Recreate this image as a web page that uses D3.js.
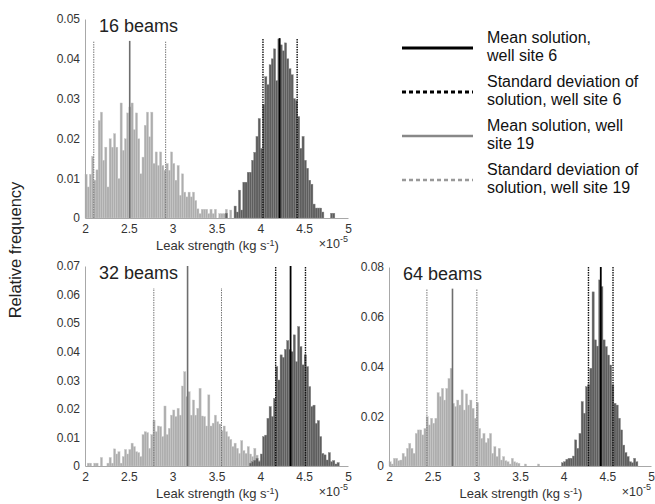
<!DOCTYPE html>
<html>
<head>
<meta charset="utf-8">
<script src="https://cdn.jsdelivr.net/npm/d3@7"></script>
<style>
  body { margin: 0; background: #fff; }
  svg { font-family: "Liberation Sans", Arial, Helvetica, sans-serif; }
  .axis path { stroke: #a8a8a8; }
  .axis text { fill: #333; font-size: 12px; }
</style>
</head>
<body>
<div id="chart"></div>
<script>
// histogram bin width (x in units of 1e-5 kg/s)
var binWidth = 0.025;
var xTicks = [2, 2.5, 3, 3.5, 4, 4.5, 5];
var xTickLabels = ["2", "2.5", "3", "3.5", "4", "4.5", "5"];

// 16 beams
var b16Site19Start = 2.0;
var b16Site19 = [0.0110, 0.0078, 0.0110, 0.0155, 0.0095, 0.0121, 0.0245, 0.0266, 0.0145, 0.0178,
  0.0078, 0.0199, 0.0178, 0.0212, 0.0178, 0.0099, 0.0289, 0.0170, 0.0199, 0.0264,
  0.0279, 0.0289, 0.0222, 0.0264, 0.0199, 0.0111, 0.0153, 0.0233, 0.0266, 0.0204,
  0.0266, 0.0137, 0.0166, 0.0132, 0.0166, 0.0132, 0.0120, 0.0137, 0.0120, 0.0166,
  0.0137, 0.0095, 0.0132, 0.0057, 0.0111, 0.0065, 0.0053, 0.0065, 0.0053, 0.0065,
  0.0044, 0.0023, 0.0011, 0.0022, 0.0022, 0.0022, 0.0011, 0.0022, 0.0011, 0.0022,
  0.0, 0.0011, 0.0011, 0.0011, 0.0022, 0.0, 0.0020];
var b16Site6Start = 3.6;
var b16Site6 = [0.0012, 0.0, 0.0, 0.0, 0.0030, 0.0015, 0.0070, 0.0020, 0.0090, 0.0090,
  0.0115, 0.0115, 0.0145, 0.0165, 0.0205, 0.0250, 0.0175, 0.0285, 0.0355, 0.0335,
  0.0385, 0.0400, 0.0425, 0.0345, 0.0450, 0.0435, 0.0420, 0.0440, 0.0400, 0.0375,
  0.0360, 0.0300, 0.0295, 0.0255, 0.0175, 0.0205, 0.0145, 0.0125, 0.0095, 0.0085,
  0.0035, 0.0025, 0.0025, 0.0025, 0.0015, 0.0, 0.0, 0.0, 0.0012, 0.0012];
var b16Lines = { mean19: 2.51, sd19: [2.10, 2.92], mean6: 4.22, sd6: [4.03, 4.42] };

// 32 beams
var b32Site19Start = 2.0;
var b32Site19 = [0.0, 0.0010, 0.0010, 0.0, 0.0010, 0.0010, 0.0, 0.0030, 0.0, 0.0,
  0.0010, 0.0030, 0.0010, 0.0060, 0.0042, 0.0050, 0.0010, 0.0033, 0.0058, 0.0042,
  0.0058, 0.0080, 0.0068, 0.0050, 0.0047, 0.0033, 0.0110, 0.0120, 0.0117, 0.0062,
  0.0110, 0.0160, 0.0120, 0.0140, 0.0138, 0.0103, 0.0210, 0.0110, 0.0132, 0.0178,
  0.0196, 0.0173, 0.0202, 0.0178, 0.0280, 0.0330, 0.0243, 0.0260, 0.0178, 0.0231,
  0.0178, 0.0202, 0.0272, 0.0175, 0.0173, 0.0140, 0.0249, 0.0140, 0.0150, 0.0178,
  0.0155, 0.0147, 0.0124, 0.0140, 0.0120, 0.0103, 0.0093, 0.0068, 0.0080, 0.0062,
  0.0044, 0.0089, 0.0054, 0.0044, 0.0068, 0.0042, 0.0033, 0.0062, 0.0038, 0.0019,
  0.0020, 0.0030, 0.0010, 0.0010];
var b32Site6Start = 3.875;
var b32Site6 = [0.0010, 0.0015, 0.0020, 0.0027, 0.0015, 0.0042, 0.0103, 0.0108, 0.0167, 0.0208,
  0.0173, 0.0237, 0.0348, 0.0301, 0.0389, 0.0380, 0.0408, 0.0439, 0.0408, 0.0400,
  0.0459, 0.0365, 0.0488, 0.0418, 0.0354, 0.0389, 0.0348, 0.0278, 0.0208, 0.0213,
  0.0149, 0.0159, 0.0103, 0.0044, 0.0039, 0.0021, 0.0047, 0.0015, 0.0019, 0.0007, 0.0012];
var b32Lines = { mean19: 3.17, sd19: [2.785, 3.557], mean6: 4.345, sd6: [4.175, 4.515] };

// 64 beams
var b64Site19Start = 2.0;
var b64Site19 = [0.0017, 0.0008, 0.0031, 0.0031, 0.0021, 0.0024, 0.0051, 0.0038, 0.0071, 0.0091,
  0.0071, 0.0051, 0.0131, 0.0145, 0.0145, 0.0125, 0.0151, 0.0198, 0.0165, 0.0192,
  0.0172, 0.0192, 0.0295, 0.0279, 0.0312, 0.0265, 0.0312, 0.0352, 0.0393, 0.0252,
  0.0239, 0.0265, 0.0245, 0.0306, 0.0225, 0.0290, 0.0245, 0.0265, 0.0232, 0.0192,
  0.0255, 0.0151, 0.0111, 0.0131, 0.0094, 0.0111, 0.0131, 0.0051, 0.0078, 0.0038,
  0.0071, 0.0024, 0.0038, 0.0021, 0.0017, 0.0008, 0.0031, 0.0017, 0.0013, 0.0011,
  0.0, 0.0, 0.0008, 0.0, 0.0, 0.0, 0.0, 0.0, 0.0008];
var b64Site6Start = 3.975;
var b64Site6 = [0.0013, 0.0017, 0.0027, 0.0031, 0.0031, 0.0040, 0.0105, 0.0071, 0.0131, 0.0259,
  0.0212, 0.0319, 0.0326, 0.0393, 0.0700, 0.0507, 0.0482, 0.0748, 0.0721, 0.0507,
  0.0480, 0.0446, 0.0406, 0.0326, 0.0252, 0.0245, 0.0192, 0.0145, 0.0084, 0.0054,
  0.0038, 0.0017, 0.0013, 0.0031, 0.0017];
var b64Lines = { mean19: 2.727, sd19: [2.434, 3.006], mean6: 4.425, sd6: [4.284, 4.565] };

var legendLabels = [
  ["Mean solution,", "well site 6"],
  ["Standard deviation of", "solution, well site 6"],
  ["Mean solution, well", "site 19"],
  ["Standard deviation of", "solution, well site 19"]
];

var svg = d3.select("#chart").append("svg")
  .attr("width", 655)
  .attr("height", 504);

var panels = [
  { title: "16 beams", left: 85, top: 19, width: 263, height: 199, yMax: 0.05,
    yTicks: [0, 0.01, 0.02, 0.03, 0.04, 0.05], light: b16Site19, lightStart: b16Site19Start,
    dark: b16Site6, darkStart: b16Site6Start, lines: b16Lines, topDark: 0.0452, topLight: 0.0445, topLightSd: 0.0443 },
  { title: "32 beams", left: 85, top: 266, width: 263, height: 200, yMax: 0.07,
    yTicks: [0, 0.01, 0.02, 0.03, 0.04, 0.05, 0.06, 0.07], light: b32Site19, lightStart: b32Site19Start,
    dark: b32Site6, darkStart: b32Site6Start, lines: b32Lines, topDark: 0.07, topLight: 0.07, topLightSd: 0.0623 },
  { title: "64 beams", left: 389, top: 267, width: 262, height: 199, yMax: 0.08,
    yTicks: [0, 0.02, 0.04, 0.06, 0.08], light: b64Site19, lightStart: b64Site19Start,
    dark: b64Site6, darkStart: b64Site6Start, lines: b64Lines, topDark: 0.08, topLight: 0.0713, topLightSd: 0.0713 }
];

panels.forEach(function (p) {
  var g = svg.append("g").attr("transform", "translate(" + p.left + "," + p.top + ")");

  var x = d3.scaleLinear().domain([2, 5]).range([0, p.width]);
  var y = d3.scaleLinear().domain([0, p.yMax]).range([p.height, 0]);
  var bw = x(2 + binWidth) - x(2);

  function drawBars(vals, start, fill, edge) {
    g.append("g").selectAll("rect")
      .data(vals)
      .enter().append("rect")
      .attr("x", function (d, i) { return x(start + i * binWidth); })
      .attr("y", function (d) { return y(d); })
      .attr("width", bw)
      .attr("height", function (d) { return y(0) - y(d); })
      .style("fill", fill)
      .style("stroke", edge)
      .style("stroke-width", 0.4);
  }
  drawBars(p.light, p.lightStart, "#adadad", "#cacaca");
  drawBars(p.dark, p.darkStart, "#5e5e5e", "#858585");

  function vline(v, top, color, width, dash) {
    g.append("line")
      .attr("x1", x(v)).attr("x2", x(v))
      .attr("y1", y(0)).attr("y2", y(top))
      .style("stroke", color)
      .style("stroke-width", width)
      .style("stroke-dasharray", dash || null);
  }
  p.lines.sd19.forEach(function (v) { vline(v, p.topLightSd, "#777", 1, "1.5,1"); });
  vline(p.lines.mean19, p.topLight, "#6e6e6e", 1.6);
  p.lines.sd6.forEach(function (v) { vline(v, p.topDark, "#111", 1.4, "1.5,1"); });
  vline(p.lines.mean6, p.topDark, "#000", 1.8);

  // axes
  g.append("g")
    .attr("class", "axis")
    .attr("transform", "translate(0," + p.height + ")")
    .call(d3.axisBottom(x).tickValues(xTicks).tickSize(0).tickPadding(6)
      .tickFormat(function (d, i) { return xTickLabels[i]; }));

  g.append("g")
    .attr("class", "axis")
    .call(d3.axisLeft(y).tickValues(p.yTicks).tickSize(0).tickPadding(5)
      .tickFormat(function (d) { return d === 0 ? "0" : d3.format(".2f")(d); }));

  g.append("text")
    .attr("x", 14).attr("y", 13)
    .style("font-size", "18px")
    .style("fill", "#222")
    .text(p.title);

  var lab = g.append("text")
    .attr("x", p.width / 2 + 1).attr("y", p.height + 32)
    .attr("text-anchor", "middle")
    .style("font-size", "13px")
    .style("fill", "#333");
  lab.append("tspan").text("Leak strength (kg s");
  lab.append("tspan").attr("dy", -4).style("font-size", "9px").text("-1");
  lab.append("tspan").attr("dy", 4).text(")");

  var mult = g.append("text")
    .attr("x", p.width).attr("y", p.height + 30)
    .attr("text-anchor", "end")
    .style("font-size", "12.5px")
    .style("fill", "#333");
  mult.append("tspan").text("\u00d710");
  mult.append("tspan").attr("dy", -6).style("font-size", "9px").text("-5");
});

svg.append("text")
  .attr("transform", "translate(21,250) rotate(-90)")
  .attr("text-anchor", "middle")
  .style("font-size", "16.5px")
  .style("fill", "#222")
  .text("Relative frequency");

// legend
var legendStyles = [
  { color: "#000", width: 3, dash: null },
  { color: "#000", width: 3, dash: "4,3" },
  { color: "#888", width: 2.6, dash: null },
  { color: "#999", width: 2.6, dash: "4,3" }
];
var legendY = [48, 92, 136, 180];
var leg = svg.append("g");
legendStyles.forEach(function (s, i) {
  leg.append("line")
    .attr("x1", 402).attr("x2", 473)
    .attr("y1", legendY[i]).attr("y2", legendY[i])
    .style("stroke", s.color)
    .style("stroke-width", s.width)
    .style("stroke-dasharray", s.dash);
  legendLabels[i].forEach(function (t, j) {
    leg.append("text")
      .attr("x", 487)
      .attr("y", legendY[i] - 5.5 + j * 18)
      .style("font-size", "16px")
      .style("fill", "#111")
      .text(t);
  });
});
</script>
</body>
</html>
